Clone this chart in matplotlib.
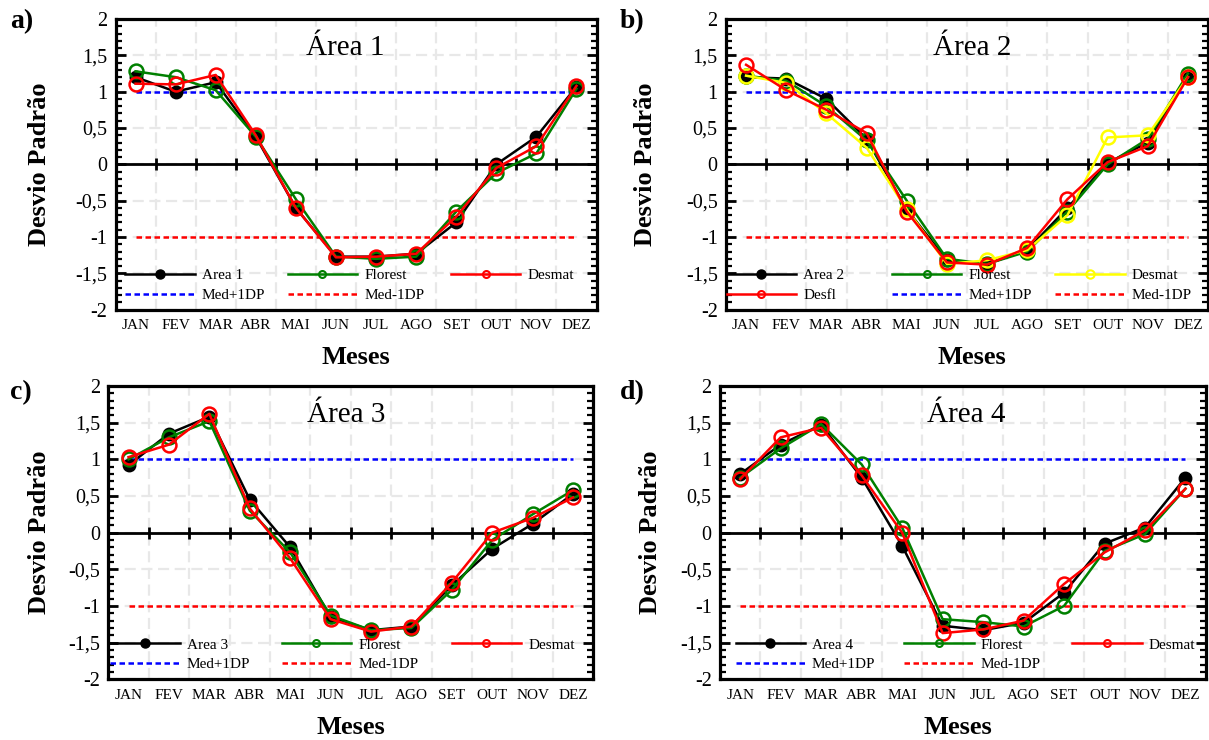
import numpy as np
import matplotlib
matplotlib.use("Agg")
import matplotlib.pyplot as plt
from matplotlib.lines import Line2D
from matplotlib.legend import Legend
from matplotlib.ticker import MultipleLocator

FONT = ['Liberation Serif', 'DejaVu Serif']
plt.rcParams['font.family'] = FONT

# ---------------- data ----------------
months = ['JAN', 'FEV', 'MAR', 'ABR', 'MAI', 'JUN', 'JUL', 'AGO', 'SET', 'OUT', 'NOV', 'DEZ']

area1 = [1.20, 1.00, 1.13, 0.38, -0.60, -1.27, -1.27, -1.23, -0.80, 0.00, 0.38, 1.07]
florest1 = [1.28, 1.20, 1.02, 0.38, -0.48, -1.27, -1.30, -1.27, -0.65, -0.12, 0.15, 1.04]
desmat1 = [1.11, 1.10, 1.23, 0.40, -0.60, -1.28, -1.27, -1.23, -0.72, -0.05, 0.25, 1.08]

area2 = [1.20, 1.18, 0.90, 0.35, -0.62, -1.32, -1.37, -1.18, -0.60, 0.02, 0.30, 1.22]
florest2 = [1.22, 1.15, 0.80, 0.33, -0.50, -1.30, -1.37, -1.20, -0.65, 0.00, 0.35, 1.25]
desmat2 = [1.22, 1.12, 0.70, 0.23, -0.62, -1.37, -1.32, -1.18, -0.70, 0.37, 0.40, 1.20]
desfl2 = [1.37, 1.02, 0.75, 0.43, -0.65, -1.35, -1.38, -1.15, -0.48, 0.03, 0.25, 1.20]

area3 = [0.92, 1.35, 1.58, 0.45, -0.20, -1.15, -1.33, -1.28, -0.72, -0.22, 0.12, 0.53]
florest3 = [1.00, 1.30, 1.52, 0.30, -0.27, -1.13, -1.33, -1.30, -0.78, -0.10, 0.25, 0.58]
desmat3 = [1.03, 1.20, 1.62, 0.33, -0.35, -1.18, -1.35, -1.28, -0.68, 0.00, 0.20, 0.48]

area4 = [0.80, 1.20, 1.47, 0.75, -0.18, -1.27, -1.33, -1.23, -0.82, -0.15, 0.07, 0.75]
florest4 = [0.75, 1.15, 1.48, 0.93, 0.07, -1.18, -1.22, -1.28, -1.00, -0.25, -0.02, 0.60]
desmat4 = [0.73, 1.30, 1.43, 0.78, 0.00, -1.37, -1.32, -1.20, -0.70, -0.27, 0.03, 0.60]

med_plus_1dp = 1.0
med_minus_1dp = -1.0

panel_letters = ['a)', 'b)', 'c)', 'd)']
panel_titles = ['Área 1', 'Área 2', 'Área 3', 'Área 4']

# ---------------- styles ----------------
BLACK = '#000000'
GREEN = '#008000'
RED = '#ff0000'
YELLOW = '#ffff00'
BLUE = '#0000ff'

LW = 1.8
DASH = (0, (2.2, 1.4))
SERIES_STYLE = {
    'area': dict(color=BLACK, marker='o', ms=8.5, mfc=BLACK, mec=BLACK, mew=1.5),
    'green': dict(color=GREEN, marker='o', ms=10, mfc='none', mec=GREEN, mew=1.8),
    'red': dict(color=RED, marker='o', ms=10, mfc='none', mec=RED, mew=1.8),
    'yellow': dict(color=YELLOW, marker='o', ms=10, mfc='none', mec=YELLOW, mew=1.8),
}
LEG_STYLE = {
    'area': dict(color=BLACK, marker='o', ms=6.5, mfc=BLACK, mec=BLACK, mew=1.0, lw=LW),
    'green': dict(color=GREEN, marker='o', ms=5, mfc='none', mec=GREEN, mew=1.5, lw=LW),
    'red': dict(color=RED, marker='o', ms=5, mfc='none', mec=RED, mew=1.5, lw=LW),
    'yellow': dict(color=YELLOW, marker='o', ms=6, mfc='none', mec=YELLOW, mew=1.5, lw=LW),
    'plus': dict(color=BLUE, ls=DASH, lw=LW),
    'minus': dict(color=RED, ls=DASH, lw=LW),
}

W, H = 1209, 740
fig = plt.figure(figsize=(W / 100, H / 100), dpi=100)

# axes rectangles in pixels: left, top, right, bottom
rects_px = [
    (115.5, 19.0, 596.5, 309.7),
    (726.0, 19.0, 1208.0, 309.7),
    (108.3, 386.0, 593.3, 679.3),
    (720.0, 386.0, 1205.7, 679.3),
]

panels = [
    dict(series=[('Area 1', area1, 'area'), ('Florest', florest1, 'green'), ('Desmat', desmat1, 'red')],
         legend=[('Area 1', 'area', 0, 0), ('Florest', 'green', 1, 0), ('Desmat', 'red', 2, 0),
                 ('Med+1DP', 'plus', 0, 1), ('Med-1DP', 'minus', 1, 1)],
         cols=[0.020, 0.358, 0.697], title_x=0.477, ylab_x=-0.157, xlab_x=0.50),
    dict(series=[('Area 2', area2, 'area'), ('Florest', florest2, 'green'), ('Desmat', desmat2, 'yellow'),
                 ('Desfl', desfl2, 'red')],
         legend=[('Area 2', 'area', 0, 0), ('Florest', 'green', 1, 0), ('Desmat', 'yellow', 2, 0),
                 ('Desfl', 'red', 0, 1), ('Med+1DP', 'plus', 1, 1), ('Med-1DP', 'minus', 2, 1)],
         cols=[0.0015, 0.344, 0.683], title_x=0.51, ylab_x=-0.168, xlab_x=0.51),
    dict(series=[('Area 3', area3, 'area'), ('Florest', florest3, 'green'), ('Desmat', desmat3, 'red')],
         legend=[('Area 3', 'area', 0, 0), ('Florest', 'green', 1, 0), ('Desmat', 'red', 2, 0),
                 ('Med+1DP', 'plus', 0, 1), ('Med-1DP', 'minus', 1, 1)],
         cols=[0.004, 0.3575, 0.708], title_x=0.49, ylab_x=-0.141, xlab_x=0.50),
    dict(series=[('Area 4', area4, 'area'), ('Florest', florest4, 'green'), ('Desmat', desmat4, 'red')],
         legend=[('Area 4', 'area', 0, 0), ('Florest', 'green', 1, 0), ('Desmat', 'red', 2, 0),
                 ('Med+1DP', 'plus', 0, 1), ('Med-1DP', 'minus', 1, 1)],
         cols=[0.032, 0.379, 0.725], title_x=0.507, ylab_x=-0.144, xlab_x=0.49),
]

x = np.arange(1, len(months) + 1)
boundaries = np.arange(1.5, len(months), 1)
ytick_vals = np.arange(-2, 2.01, 0.5)
ytick_labels = [('%g' % v).replace('.', ',') for v in ytick_vals]
legend_rows_v = [-1.53, -1.80]

for i, (rect, p) in enumerate(zip(rects_px, panels)):
    l, t, r, b = rect
    ax = fig.add_axes([l / W, 1 - b / H, (r - l) / W, (b - t) / H])
    ax.set_xlim(0.5, len(months) + 0.5)
    ax.set_ylim(-2, 2)

    # ticks / grid
    ax.set_xticks(x)
    ax.set_xticklabels(months, fontsize=11, fontfamily=FONT)
    ax.set_xticks(boundaries, minor=True)
    ax.set_yticks(ytick_vals)
    ax.set_yticklabels(ytick_labels, fontsize=14.5, fontfamily=FONT)
    ax.yaxis.set_minor_locator(MultipleLocator(0.1))
    ax.xaxis.grid(True, which='minor', color='#e8e8e8', lw=1.6, ls=(0, (5, 2.5)))
    ax.yaxis.grid(True, which='major', color='#e8e8e8', lw=1.6, ls=(0, (5, 2.5)))
    ax.set_axisbelow(True)

    ax.tick_params(axis='x', which='both', length=0, pad=7)
    ax.tick_params(axis='y', which='major', direction='in', length=7, width=2,
                   left=True, right=True, pad=6)
    ax.tick_params(axis='y', which='minor', direction='in', length=4, width=1.6,
                   left=True, right=True)
    for s in ax.spines.values():
        s.set_linewidth(2.3)
        s.set_color('black')

    # zero axis with ticks between categories
    ax.axhline(0, color=BLACK, lw=2, zorder=1.5)
    ax.plot(boundaries, np.zeros(len(boundaries)), ls='none', marker='|', ms=9, mew=2,
            color=BLACK, zorder=1.6)

    # reference lines
    ax.plot(x, np.full(len(months), med_plus_1dp), color=BLUE, lw=LW, ls=DASH, zorder=2)
    ax.plot(x, np.full(len(months), med_minus_1dp), color=RED, lw=LW, ls=DASH, zorder=2)

    # series
    for k, (name, vals, sty) in enumerate(p['series']):
        ax.plot(x, vals, lw=LW, zorder=3 + k, **SERIES_STYLE[sty])

    # legend entries (grid-like, Excel style)
    for (label, sty, col, row) in p['legend']:
        h = Line2D([], [], **LEG_STYLE[sty])
        yfrac = (legend_rows_v[row] + 2) / 4
        leg = Legend(ax, [h], [label], loc='center left', bbox_to_anchor=(p['cols'][col], yfrac),
                     bbox_transform=ax.transAxes, frameon=False, borderpad=0, borderaxespad=0,
                     handlelength=4.55, handletextpad=0.45, fontsize=11)
        leg.set_zorder(10)
        ax.add_artist(leg)

    # titles and labels
    ax.text(p['title_x'], 0.90, panel_titles[i], transform=ax.transAxes, ha='center', va='center',
            fontsize=21)
    ax.text(p['ylab_x'], 0.5, 'Desvio Padrão', transform=ax.transAxes, rotation=90,
            ha='center', va='center', fontsize=19, fontweight='bold')
    ax.text(p['xlab_x'], -0.165, 'Meses', transform=ax.transAxes, ha='center', va='center',
            fontsize=19, fontweight='bold')

# panel letters
letter_pos = [(10, 22), (620, 22), (10, 393), (620, 393)]
for letter, (px, py) in zip(panel_letters, letter_pos):
    fig.text(px / W, 1 - py / H, letter, ha='left', va='center', fontsize=20, fontweight='bold')

fig.savefig('out.png', dpi=100)
